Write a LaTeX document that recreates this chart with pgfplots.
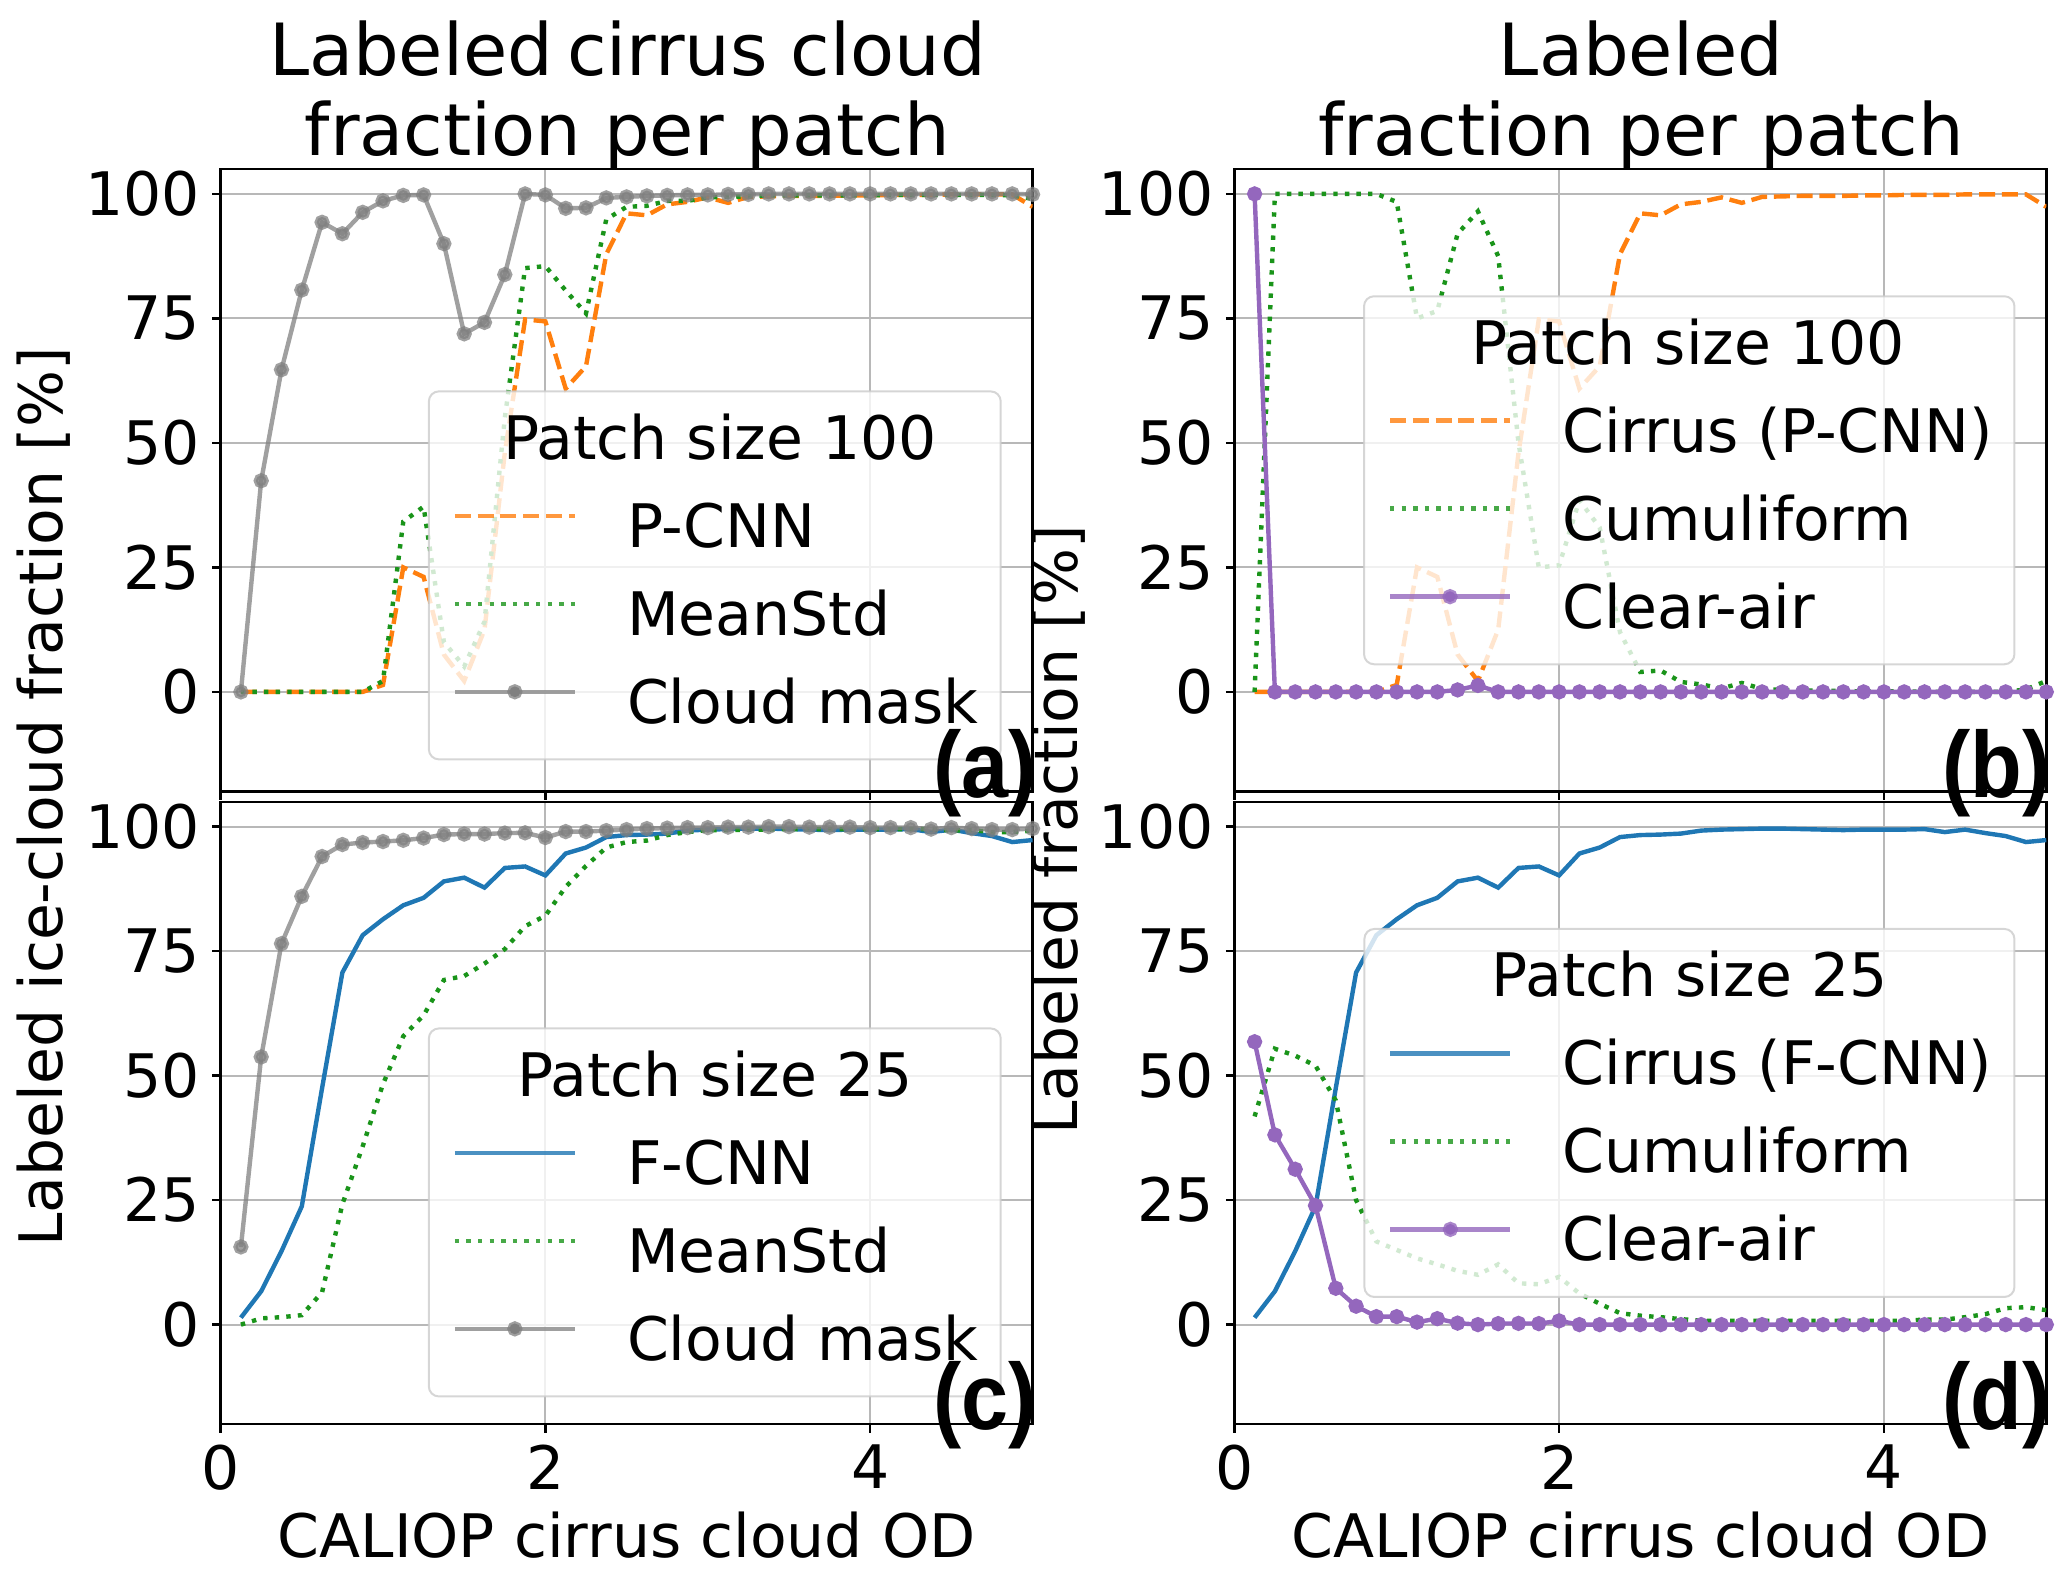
\documentclass[border=0pt]{standalone}
\usepackage{fontspec}
\setmainfont{DejaVu Sans}
\newfontfamily\lblfont{Liberation Sans}[FakeStretch=0.9]
\usepackage{pgfplots}
\pgfplotsset{compat=1.18}
\usepackage{pgfplotstable}

\definecolor{cOrange}{HTML}{FF7F0E}
\definecolor{cGreen}{HTML}{1A941A}
\definecolor{cBlue}{HTML}{1F77B4}
\definecolor{cPurple}{HTML}{9467BD}
\definecolor{cGray}{HTML}{808080}

% top row: patch size 100
\pgfplotstableread{
x pcnn meanstd cloud
0.125 0 0 0
0.25 0 0 42.4
0.375 0 0 64.7
0.5 0 0 80.7
0.625 0 0 94.3
0.75 0 0 92.0
0.875 0 0 96.3
1.0 1.4 2.2 98.6
1.125 25.0 34.2 99.7
1.25 23.1 37.2 99.8
1.375 7.5 10.0 90.0
1.5 2.2 5.1 71.9
1.625 12.5 14.1 74.2
1.75 48.0 55.0 83.8
1.875 74.8 85.1 100
2.0 74.4 85.5 99.8
2.125 60.9 80.6 97.1
2.25 65.4 76.0 97.2
2.375 87.9 94.9 99.2
2.5 96.1 97.4 99.4
2.625 95.7 97.6 99.6
2.75 97.9 98.6 99.7
2.875 98.4 98.6 99.8
3.0 99.3 99.3 99.8
3.125 98.2 99.4 99.9
3.25 99.4 99.5 99.9
3.375 99.5 99.7 100
3.5 99.6 99.7 100
3.625 99.6 99.7 100
3.75 99.6 99.7 100
3.875 99.7 99.7 100
4.0 99.7 99.7 100
4.125 99.8 99.8 100
4.25 99.8 99.8 100
4.375 99.8 99.8 100
4.5 99.9 99.8 100
4.625 99.9 99.8 100
4.75 99.9 99.8 100
4.875 99.9 99.7 100
5.0 97.4 99.0 99.9
}\tabA

\pgfplotstableread{
x cumu clear
0.125 0 100
0.25 100 0
0.375 100 0
0.5 100 0
0.625 100 0
0.75 100 0
0.875 100 0
1.0 98.4 0
1.125 75.0 0
1.25 76.5 0
1.375 92.0 0.4
1.5 96.5 1.3
1.625 87.5 0
1.75 50.0 0
1.875 25.0 0
2.0 25.4 0
2.125 38.5 0
2.25 33.0 0
2.375 12.0 0
2.5 4.0 0
2.625 4.3 0
2.75 2.0 0
2.875 1.5 0
3.0 0.7 0
3.125 1.8 0
3.25 0.6 0
3.375 0.4 0
3.5 0.3 0
3.625 0.2 0
3.75 0.2 0
3.875 0.1 0
4.0 0.1 0
4.125 0.1 0
4.25 0 0
4.375 0 0
4.5 0 0
4.625 0 0
4.75 0 0
4.875 0.5 0
5.0 2.2 0
}\tabB

% bottom row: patch size 25
\pgfplotstableread{
x fcnn meanstd cloud
0.125 1.4 0 15.6
0.25 6.7 1.25 53.75
0.375 14.75 1.5 76.5
0.5 23.75 1.9 86.0
0.625 47.5 6.5 94.0
0.75 70.7 24.2 96.4
0.875 78.2 35.8 96.8
1.0 81.4 48.3 97.0
1.125 84.2 57.9 97.25
1.25 85.7 62.1 97.7
1.375 89.0 69.2 98.4
1.5 89.75 70.0 98.5
1.625 87.75 72.5 98.5
1.75 91.7 75.4 98.7
1.875 92.0 80.0 98.75
2.0 90.2 82.1 97.8
2.125 94.6 87.9 99.0
2.25 95.8 92.1 99.0
2.375 97.9 95.8 99.2
2.5 98.3 96.9 99.4
2.625 98.4 97.2 99.6
2.75 98.6 98.3 99.7
2.875 99.2 98.9 99.8
3.0 99.4 99.3 99.8
3.125 99.5 99.3 99.9
3.25 99.6 99.4 99.9
3.375 99.6 99.4 100
3.5 99.5 99.5 100
3.625 99.4 99.5 99.9
3.75 99.3 99.5 99.9
3.875 99.4 99.5 99.9
4.0 99.4 99.5 99.8
4.125 99.4 99.5 99.8
4.25 99.5 99.5 99.8
4.375 98.9 99.5 99.5
4.5 99.4 99.2 99.8
4.625 98.7 99.3 99.6
4.75 98.1 98.9 99.4
4.875 96.9 98.9 99.4
5.0 97.3 99.2 99.6
}\tabC

\pgfplotstableread{
x cumu clear
0.125 41.8 56.8
0.25 55.4 38.1
0.375 54.0 31.2
0.5 52.0 23.9
0.625 45.0 7.3
0.75 25.0 3.7
0.875 16.7 1.6
1.0 15.0 1.6
1.125 13.3 0.5
1.25 12.1 1.2
1.375 10.8 0.3
1.5 10.0 0
1.625 12.1 0.2
1.75 8.3 0.25
1.875 8.1 0.2
2.0 9.6 0.75
2.125 6.25 0
2.25 4.2 0
2.375 2.3 0
2.5 1.8 0
2.625 1.5 0
2.75 1.1 0
2.875 0.8 0
3.0 0.75 0
3.125 0.75 0
3.25 0.75 0
3.375 0.75 0
3.5 0.75 0
3.625 0.75 0
3.75 0.75 0
3.875 0.75 0
4.0 0.75 0
4.125 0.8 0
4.25 1.0 0
4.375 1.0 0
4.5 1.5 0
4.625 2.1 0
4.75 3.3 0
4.875 3.5 0
5.0 2.9 0
}\tabD

\pgfplotsset{
  panel/.style={
    scale only axis, width=203pt, height=155.625pt,
    anchor=north west,
    xmin=0, xmax=5, ymin=-20, ymax=105,
    xtick={0,2,4}, ytick={0,25,50,75,100},
    tick pos=left, tick align=outside, major tick length=2.1pt,
    grid=major, major grid style={draw=black!28, line width=0.5pt},
    axis line style={line width=0.6pt},
    tick style={black, line width=0.6pt},
    ticklabel style={font=\fontsize{15}{18}\selectfont, inner sep=2.9pt},
    /pgf/number format/assume math mode=true,
    legend cell align=left,
    legend style={draw=black!20, line width=0.5pt, rounded corners=2.5pt,
      fill=white, fill opacity=0.8, draw opacity=0.8, text opacity=1,
      font=\fontsize{15}{18}\selectfont,
      inner xsep=5.5pt, inner ysep=5.5pt, row sep=7pt, column sep=12.5pt,
      nodes={inner sep=0pt, text height=11.5pt, text depth=3.5pt}},
  },
  legend image code/.code={\draw[fill opacity=1, #1, mark repeat=2, mark phase=2]
      plot coordinates {(1pt,3.9pt) (16pt,3.9pt) (31pt,3.9pt)};},
  sOrange/.style={color=cOrange, line width=1.1pt, dash pattern=on 4pt off 1.7pt, mark=none},
  sGreen/.style={color=cGreen, line width=1.1pt, dash pattern=on 1.1pt off 1.8pt, mark=none},
  sGray/.style={color=cGray, opacity=0.75, line width=1.1pt, mark=*, mark size=1.35pt, mark options={solid}},
  sPurple/.style={color=cPurple, line width=1.1pt, mark=*, mark size=1.35pt, mark options={solid}},
  sBlue/.style={color=cBlue, line width=1.1pt, mark=none},
}

\begin{document}
\begin{tikzpicture}
\useasboundingbox (0,0) rectangle (516.75pt,-393.75pt);

% (a)
\begin{axis}[panel, at={(55.15pt,-42.25pt)}, xticklabels={,,},
  legend style={at={(0.962,0.05)}, anchor=south east}]
\addlegendimage{empty legend}
\addlegendentry{\hspace*{-31pt}Patch size 100}
\addplot[sOrange] table[x=x, y=pcnn] {\tabA};
\addlegendentry{P-CNN}
\addplot[sGreen] table[x=x, y=meanstd] {\tabA};
\addlegendentry{MeanStd}
\addplot[sGray] table[x=x, y=cloud] {\tabA};
\addlegendentry{Cloud mask}
\end{axis}

% (b)
\begin{axis}[panel, at={(308.575pt,-42.25pt)}, xticklabels={,,},
  legend style={at={(0.962,0.5)}, anchor=east}]
\addlegendimage{empty legend}
\addlegendentry{\hspace*{-22.8pt}Patch size 100}
\addplot[sOrange] table[x=x, y=pcnn] {\tabA};
\addlegendentry{Cirrus (P-CNN)}
\addplot[sGreen] table[x=x, y=cumu] {\tabB};
\addlegendentry{Cumuliform}
\addplot[sPurple] table[x=x, y=clear] {\tabB};
\addlegendentry{Clear-air}
\end{axis}

% (c)
\begin{axis}[panel, at={(55.15pt,-200.425pt)},
  legend style={at={(0.962,0.043)}, anchor=south east}]
\addlegendimage{empty legend}
\addlegendentry{\hspace*{-27.5pt}Patch size 25}
\addplot[sBlue] table[x=x, y=fcnn] {\tabC};
\addlegendentry{F-CNN}
\addplot[sGreen] table[x=x, y=meanstd] {\tabC};
\addlegendentry{MeanStd}
\addplot[sGray] table[x=x, y=cloud] {\tabC};
\addlegendentry{Cloud mask}
\end{axis}

% (d)
\begin{axis}[panel, at={(308.575pt,-200.425pt)},
  legend style={at={(0.962,0.5)}, anchor=east}]
\addlegendimage{empty legend}
\addlegendentry{\hspace*{-17.7pt}Patch size 25}
\addplot[sBlue] table[x=x, y=fcnn] {\tabC};
\addlegendentry{Cirrus (F-CNN)}
\addplot[sGreen] table[x=x, y=cumu] {\tabD};
\addlegendentry{Cumuliform}
\addplot[sPurple] table[x=x, y=clear] {\tabD};
\addlegendentry{Clear-air}
\end{axis}

% titles
\node[font=\fontsize{18}{20}\selectfont, anchor=base, inner sep=0pt] at (156.85pt,-18.75pt) {Labeled\kern3.5pt cirrus cloud};
\node[font=\fontsize{18}{20}\selectfont, anchor=base, inner sep=0pt] at (156.85pt,-38.75pt) {fraction per patch};
\node[font=\fontsize{18}{20}\selectfont, anchor=base, inner sep=0pt] at (410.25pt,-18.75pt) {Labeled};
\node[font=\fontsize{18}{20}\selectfont, anchor=base, inner sep=0pt] at (410.25pt,-38.75pt) {fraction per patch};

% axis labels
\node[font=\fontsize{15}{18}\selectfont, rotate=90, anchor=base, inner sep=0pt] at (15.75pt,-199.25pt) {Labeled ice-cloud fraction [\%]};
\node[font=\fontsize{15}{18}\selectfont, rotate=90, anchor=base, inner sep=0pt] at (269.25pt,-207.5pt) {Labeled fraction [\%]};
\node[font=\fontsize{15}{18}\selectfont, anchor=base, inner sep=0pt] at (156.65pt,-389.25pt) {CALIOP cirrus cloud OD};
\node[font=\fontsize{15}{18}\selectfont, anchor=base, inner sep=0pt] at (410.1pt,-389.25pt) {CALIOP cirrus cloud OD};

% panel letters
\node[font=\lblfont\bfseries\fontsize{23.5}{24}\selectfont, anchor=base east, inner sep=0pt] at (259.35pt,-199.25pt) {(a)};
\node[font=\lblfont\bfseries\fontsize{23.5}{24}\selectfont, anchor=base east, inner sep=0pt] at (512.8pt,-199.25pt) {(b)};
\node[font=\lblfont\bfseries\fontsize{23.5}{24}\selectfont, anchor=base east, inner sep=0pt] at (259.35pt,-357.4pt) {(c)};
\node[font=\lblfont\bfseries\fontsize{23.5}{24}\selectfont, anchor=base east, inner sep=0pt] at (512.8pt,-357.4pt) {(d)};
\end{tikzpicture}
\end{document}
